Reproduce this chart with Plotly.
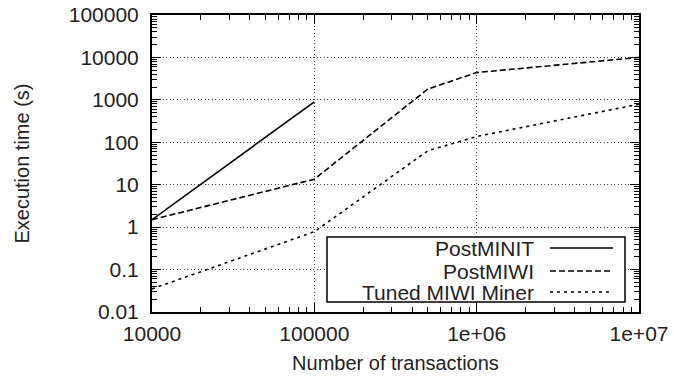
import plotly.graph_objects as go

# Data
series_names = ["PostMINIT", "PostMIWI", "Tuned MIWI Miner"]
x_postminit = [10000, 100000]
y_postminit = [1.5, 900]
x_postmiwi = [10000, 100000, 500000, 1000000, 10000000]
y_postmiwi = [1.5, 13.5, 1800, 4400, 10000]
x_tuned = [10000, 100000, 500000, 1000000, 10000000]
y_tuned = [0.035, 0.78, 63, 137, 790]

x_tickvals = [10000, 100000, 1000000, 10000000]
x_ticktext = ["10000", "100000", "1e+06", "1e+07"]
y_tickvals = [0.01, 0.1, 1, 10, 100, 1000, 10000, 100000]
y_ticktext = ["0.01", "0.1", "1", "10", "100", "1000", "10000", "100000"]

dashes = ["solid", "6px,3px", "3px,4px"]
FONT = "Liberation Sans, Arial, sans-serif"
FS = 21
TXT = "#222"

def minor_vals(decades):
    return [m * d for d in decades[:-1] for m in range(2, 10)]

fig = go.Figure()
for name, xs, ys, d in zip(series_names, [x_postminit, x_postmiwi, x_tuned],
                           [y_postminit, y_postmiwi, y_tuned], dashes):
    fig.add_trace(go.Scatter(x=xs, y=ys, mode="lines", name=name,
                             line=dict(color="black", width=1.6, dash=d),
                             showlegend=False))

def axis_common(decades, standoff_lbl):
    return dict(
        type="log", showline=True, linecolor="black", linewidth=2, mirror="allticks",
        ticks="inside", ticklen=9, tickwidth=1.3, tickcolor="black",
        showgrid=True, gridcolor="#444", griddash="1px,2.5px", gridwidth=1,
        zeroline=False, automargin=False, ticklabeloverflow="allow",
        minor=dict(ticks="inside", ticklen=5, tickwidth=1.3, tickcolor="black",
                   showgrid=False, tickvals=minor_vals(decades)),
        tickfont=dict(family=FONT, size=FS, color=TXT),
        ticklabelstandoff=standoff_lbl,
    )

fig.update_xaxes(range=[4, 7], tickvals=x_tickvals, ticktext=x_ticktext,
                 title=dict(text="Number of transactions",
                            font=dict(family=FONT, size=FS - 1, color=TXT), standoff=12),
                 **axis_common(x_tickvals, 2))
fig.update_yaxes(range=[-2, 5], tickvals=y_tickvals, ticktext=y_ticktext,
                 title=dict(text="Execution time (s)",
                            font=dict(family=FONT, size=FS - 1, color=TXT), standoff=34),
                 **axis_common(y_tickvals, 7))

# Custom legend (text right-aligned, samples on the right), like gnuplot
W = 639 - 152
H = 312 - 15
def px(x):
    return (x - 152) / W
def py(y):
    return (312 - y) / H

fig.add_shape(type="rect", xref="paper", yref="paper",
              x0=px(327), x1=px(625), y0=py(302), y1=py(237),
              line=dict(color="black", width=1.5), fillcolor="white", layer="above")
rows = [248, 271, 292]
for name, d, ry in zip(series_names, dashes, rows):
    fig.add_annotation(xref="paper", yref="paper", x=px(536), y=py(ry),
                       text=name, showarrow=False, xanchor="right", yanchor="middle",
                       font=dict(family=FONT, size=FS, color=TXT))
    fig.add_shape(type="line", xref="paper", yref="paper",
                  x0=px(550), x1=px(613), y0=py(ry), y1=py(ry),
                  line=dict(color="black", width=1.5, dash=d), layer="above")

fig.update_layout(
    width=673, height=381,
    margin=dict(l=152, r=34, t=15, b=69),
    plot_bgcolor="white", paper_bgcolor="white",
)

fig.write_html("out.html", config={"displayModeBar": False},
               post_script="document.body.style.margin='0';")
